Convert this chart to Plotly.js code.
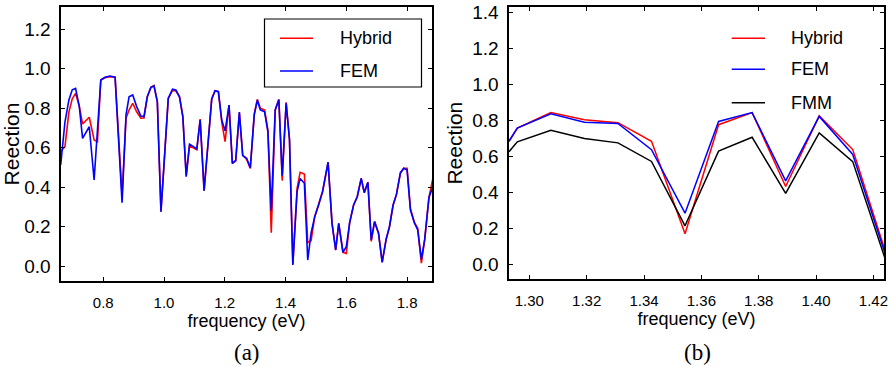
<!DOCTYPE html>
<html>
<head>
<meta charset="utf-8">
<script src="https://cdn.plot.ly/plotly-3.0.1.min.js"></script>
<style>html,body{margin:0;padding:0;background:#fff;}#chart{width:895px;height:367px;}</style>
</head>
<body>
<div id="chart"></div>
<script>
// Panel (a): frequency (eV) and reflection values
const freqA = [0.660,0.674,0.687,0.698,0.709,0.721,0.732,0.754,0.770,0.781,0.792,0.806,0.822,0.839,0.862,0.875,0.885,0.897,0.910,0.924,0.934,0.945,0.957,0.967,0.978,0.990,1.014,1.028,1.039,1.051,1.062,1.073,1.084,1.097,1.108,1.119,1.132,1.157,1.168,1.179,1.190,1.201,1.214,1.225,1.236,1.248,1.259,1.272,1.284,1.297,1.307,1.317,1.331,1.342,1.353,1.366,1.378,1.389,1.402,1.413,1.424,1.438,1.448,1.462,1.473,1.484,1.496,1.509,1.522,1.540,1.553,1.565,1.575,1.589,1.600,1.611,1.624,1.636,1.649,1.659,1.671,1.682,1.693,1.706,1.718,1.731,1.742,1.754,1.765,1.778,1.789,1.800,1.811,1.824,1.835,1.847,1.858,1.872,1.885];
const hybridA = [0.580,0.605,0.780,0.848,0.875,0.811,0.720,0.754,0.639,0.630,0.943,0.955,0.960,0.957,0.360,0.749,0.791,0.825,0.782,0.749,0.750,0.858,0.906,0.915,0.833,0.275,0.850,0.890,0.888,0.858,0.757,0.460,0.610,0.600,0.590,0.745,0.382,0.850,0.889,0.884,0.730,0.630,0.816,0.520,0.532,0.777,0.563,0.540,0.495,0.770,0.845,0.800,0.790,0.689,0.169,0.791,0.845,0.433,0.830,0.639,0.010,0.394,0.475,0.466,0.118,0.128,0.250,0.315,0.380,0.526,0.216,0.081,0.216,0.069,0.064,0.220,0.309,0.351,0.444,0.372,0.424,0.125,0.225,0.166,0.019,0.135,0.199,0.309,0.363,0.470,0.495,0.495,0.292,0.220,0.191,0.014,0.135,0.348,0.444];
const femA = [0.512,0.730,0.842,0.893,0.900,0.811,0.647,0.706,0.436,0.690,0.943,0.957,0.963,0.957,0.321,0.766,0.858,0.867,0.808,0.760,0.757,0.858,0.906,0.913,0.833,0.275,0.850,0.896,0.892,0.858,0.757,0.453,0.618,0.605,0.594,0.740,0.382,0.845,0.889,0.884,0.740,0.685,0.816,0.520,0.535,0.780,0.560,0.546,0.498,0.766,0.840,0.791,0.782,0.680,0.280,0.791,0.843,0.458,0.825,0.643,0.005,0.377,0.444,0.419,0.030,0.166,0.250,0.309,0.377,0.526,0.216,0.081,0.216,0.069,0.098,0.220,0.309,0.351,0.444,0.372,0.424,0.132,0.225,0.166,0.019,0.135,0.199,0.309,0.363,0.473,0.495,0.487,0.284,0.220,0.183,0.034,0.135,0.348,0.402];

// Panel (b)
const freqB = [1.2929,1.2958,1.3075,1.3192,1.3309,1.3426,1.3543,1.3660,1.3777,1.3894,1.4011,1.4128,1.4245];
const hybridB = [0.683,0.756,0.842,0.802,0.786,0.683,0.170,0.775,0.842,0.432,0.824,0.637,0.056];
const femB    = [0.683,0.756,0.835,0.788,0.782,0.636,0.284,0.793,0.842,0.463,0.821,0.610,0.039];
const fmmB    = [0.625,0.680,0.744,0.698,0.674,0.571,0.214,0.628,0.705,0.394,0.729,0.570,0.012];

const seriesNames = ['Hybrid','FEM','FMM'];
const panelLabels = ['(a)','(b)'];
const axisTitleX = 'frequency (eV)';
const axisTitleY = 'Reection';

const RED='#ff0000', BLUE='#0000ff', BLACK='#000000';
const FONT='Liberation Sans, Arial, sans-serif';
const SERIF='Liberation Serif, Times New Roman, serif';

const traces = [
  {x:freqA, y:hybridA, name:seriesNames[0], mode:'lines', line:{color:RED,width:1.6}, xaxis:'x', yaxis:'y', showlegend:false},
  {x:freqA, y:femA, name:seriesNames[1], mode:'lines', line:{color:BLUE,width:1.6}, xaxis:'x', yaxis:'y', showlegend:false},
  {x:freqB, y:hybridB, name:seriesNames[0], mode:'lines', line:{color:RED,width:1.5}, xaxis:'x2', yaxis:'y2', showlegend:false},
  {x:freqB, y:femB, name:seriesNames[1], mode:'lines', line:{color:BLUE,width:1.5}, xaxis:'x2', yaxis:'y2', showlegend:false},
  {x:freqB, y:fmmB, name:seriesNames[2], mode:'lines', line:{color:BLACK,width:1.5}, xaxis:'x2', yaxis:'y2', showlegend:false}
];

const W=895, H=367;
function px(x){return x/W;}
function py(y){return 1-y/H;}

const axCommon = {
  showgrid:false, zeroline:false, showline:true, linecolor:'#000', linewidth:1.6,
  mirror:'ticks', ticks:'inside', ticklen:4, tickwidth:1, tickcolor:'#000', ticklabeloverflow:'allow'
};
const xTickFont = {family:FONT,size:15,color:'#000'};
const yTickFont = {family:FONT,size:19,color:'#000'};

// Legend entries (key lines + text in paper space)
const legendA = {names:[seriesNames[0],seriesNames[1]], colors:[RED,BLUE], rows:[38.3,71], x0:280, x1:313, tx:338};
const legendB = {names:[seriesNames[0],seriesNames[1],seriesNames[2]], colors:[RED,BLUE,BLACK], rows:[38.3,69.3,102.7], x0:731.7, x1:765, tx:789};

const shapes = [
  {type:'rect', xref:'paper', yref:'paper', x0:px(264.5), x1:px(421.5), y0:py(87), y1:py(19), line:{color:'#000',width:1.2}, fillcolor:'rgba(0,0,0,0)'}
];
const annotations = [
  {text:panelLabels[0], xref:'paper', yref:'paper', x:px(247), y:py(352), showarrow:false, xanchor:'center', yanchor:'middle', font:{family:SERIF, size:23, color:'#000'}},
  {text:panelLabels[1], xref:'paper', yref:'paper', x:px(697), y:py(352), showarrow:false, xanchor:'center', yanchor:'middle', font:{family:SERIF, size:23, color:'#000'}}
];
[legendA, legendB].forEach(L => {
  L.names.forEach((n,i) => {
    shapes.push({type:'line', xref:'paper', yref:'paper', x0:px(L.x0), x1:px(L.x1), y0:py(L.rows[i]), y1:py(L.rows[i]), line:{color:L.colors[i], width:1.6}});
    annotations.push({text:n, xref:'paper', yref:'paper', x:px(L.tx), y:py(L.rows[i]), showarrow:false, xanchor:'left', yanchor:'middle', font:{family:FONT,size:18,color:'#000'}});
  });
});

const layout = {
  width:W, height:H,
  margin:{l:0,r:0,t:0,b:0},
  paper_bgcolor:'#fff', plot_bgcolor:'#fff',
  font:{family:FONT,color:'#000'},
  showlegend:false,
  xaxis: Object.assign({}, axCommon, {domain:[px(61),px(432)], range:[0.661,1.882], dtick:0.2, tick0:0, tickformat:'.1f', anchor:'y', ticklabelstandoff:7, tickfont:xTickFont,
    title:{text:axisTitleX, font:{family:FONT,size:18}, standoff:3}}),
  yaxis: Object.assign({}, axCommon, {domain:[py(281),py(7)], range:[-0.076,1.313], dtick:0.2, tick0:0, tickformat:'.1f', anchor:'x', ticklabelstandoff:5, tickfont:yTickFont,
    title:{text:axisTitleY, font:{family:FONT,size:21}, standoff:4}}),
  xaxis2: Object.assign({}, axCommon, {domain:[px(509),px(884)], range:[1.2929,1.4237], dtick:0.02, tick0:1.3, tickformat:'.2f', anchor:'y2', ticklabelstandoff:7, tickfont:xTickFont,
    title:{text:axisTitleX, font:{family:FONT,size:18}, standoff:3}}),
  yaxis2: Object.assign({}, axCommon, {domain:[py(279.3),py(7)], range:[-0.083,1.428], dtick:0.2, tick0:0, tickformat:'.1f', anchor:'x2', ticklabelstandoff:5, tickfont:yTickFont,
    title:{text:axisTitleY, font:{family:FONT,size:21}, standoff:4}}),
  shapes: shapes,
  annotations: annotations
};

Plotly.newPlot('chart', traces, layout, {displayModeBar:false, staticPlot:true});
</script>
</body>
</html>
